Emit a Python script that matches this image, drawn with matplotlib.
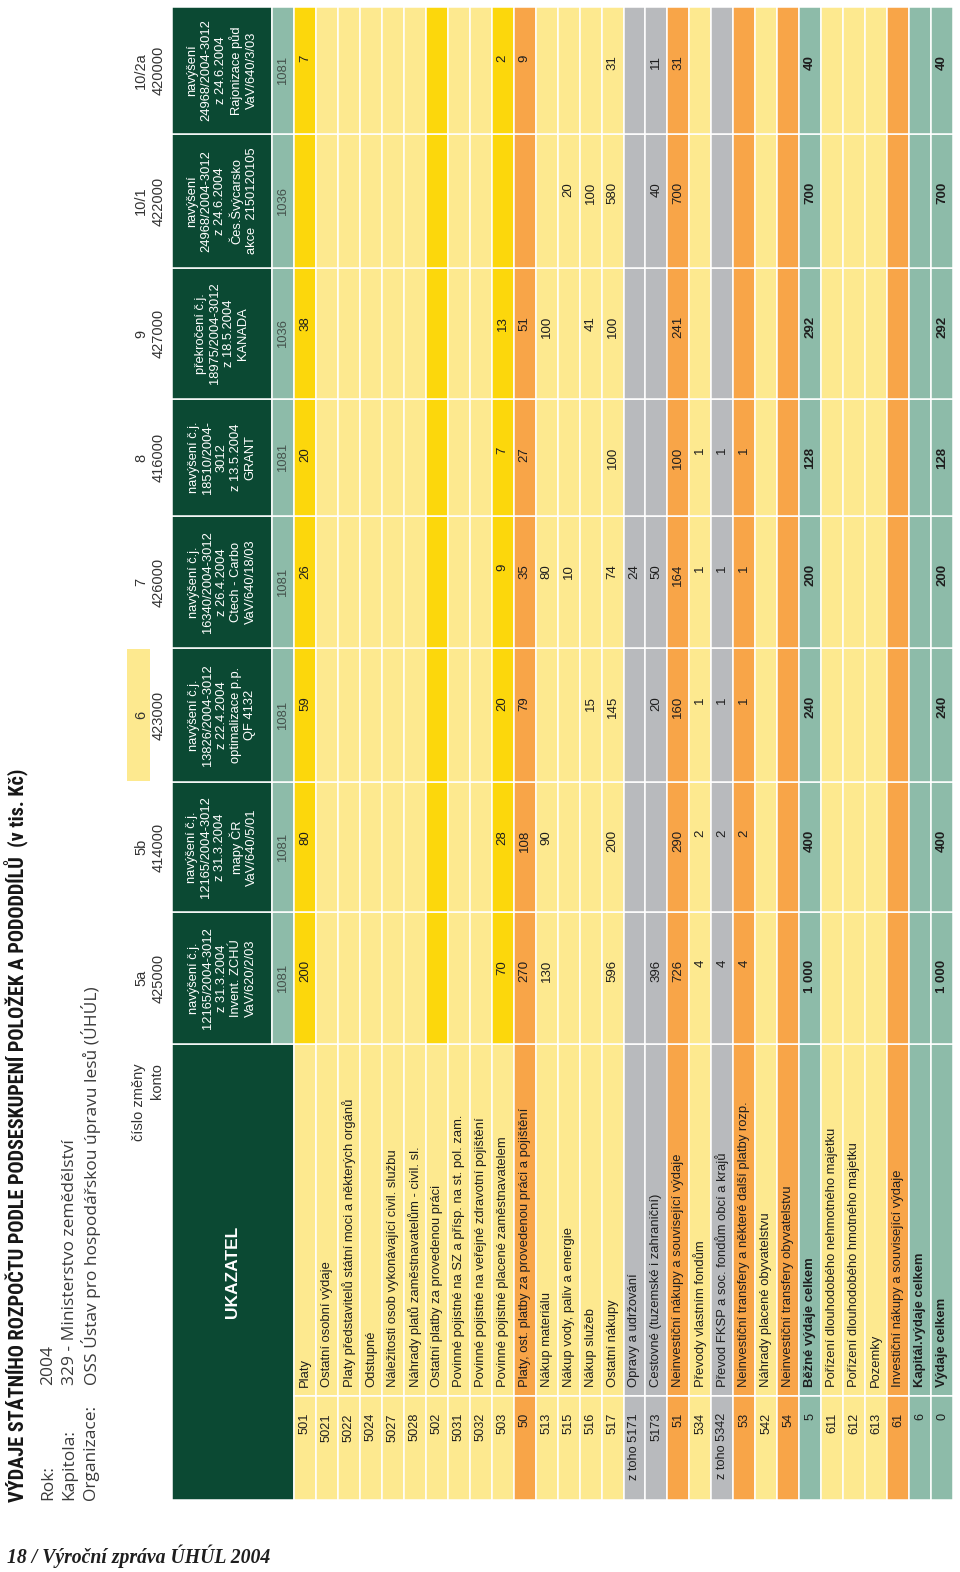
import matplotlib
matplotlib.use("Agg")
import matplotlib.pyplot as plt
from matplotlib.patches import Rectangle
from matplotlib import font_manager

# ---------------- data ----------------
col_ids = ["5a", "5b", "6", "7", "8", "9", "10/1", "10/2a"]
col_konto = ["425000", "414000", "423000", "426000", "416000", "427000", "422000", "420000"]
col_desc = [
    "navýšení č.j.\n12165/2004-3012\nz 31.3.2004\nInvent. ZCHÚ\nVaV/620/2/03",
    "navýšení č.j.\n12165/2004-3012\nz 31.3.2004\nmapy ČR\nVaV/640/5/01",
    "navýšení č.j.\n13826/2004-3012\nz 22.4.2004\noptimalizace p.p.\nQF 4132",
    "navýšení č.j.\n16340/2004-3012\nz 26.4.2004\nCtech - Carbo\nVaV/640/18/03",
    "navýšení č.j.\n18510/2004-\n3012\nz 13.5.2004\nGRANT",
    "překročení č.j.\n18975/2004-3012\nz 18.5.2004\nKANADA",
    "navýšení\n24968/2004-3012\nz 24.6.2004\nČes.Švýcarsko\nakce  2150120105",
    "navýšení\n24968/2004-3012\nz 24.6.2004\nRajonizace půd\nVaV/640/3/03",
]
col_head_vals = [1081, 1081, 1081, 1081, 1081, 1036, 1036, 1081]

row_codes = ["501", "5021", "5022", "5024", "5027", "5028", "502", "5031", "5032", "503",
             "50", "513", "515", "516", "517", "z toho 5171", "5173", "51", "534",
             "z toho 5342", "53", "542", "54", "5", "611", "612", "613", "61", "6", "0"]
row_labels = [
    "Platy",
    "Ostatní osobní výdaje",
    "Platy představitelů státní moci a některých orgánů",
    "Odstupné",
    "Náležitosti osob vykonávající civil. službu",
    "Náhrady platů zaměstnavatelům - civil. sl.",
    "Ostatní platby za provedenou práci",
    "Povinné pojistné na SZ a přísp. na st. pol. zam.",
    "Povinné pojistné na veřejné zdravotní pojištění",
    "Povinné pojistné placené zaměstnavatelem",
    "Platy, ost. platby za provedenou práci a pojištění",
    "Nákup materiálu",
    "Nákup vody, paliv a energie",
    "Nákup služeb",
    "Ostatní nákupy",
    "Opravy a udržování",
    "Cestovné (tuzemské i zahraniční)",
    "Neinvestiční nákupy a související výdaje",
    "Převody vlastním fondům",
    "Převod FKSP a soc. fondům obcí a krajů",
    "Neinvestiční transfery a některé další platby rozp.",
    "Náhrady placené obyvatelstvu",
    "Neinvestiční transfery obyvatelstvu",
    "Běžné výdaje celkem",
    "Pořízení dlouhodobého nehmotného majetku",
    "Pořízení dlouhodobého hmotného majetku",
    "Pozemky",
    "Investiční nákupy a související výdaje",
    "Kapitál.výdaje celkem",
    "Výdaje celkem",
]
row_kinds = ["gold", "light", "light", "light", "light", "light", "gold", "light", "light", "gold",
             "orange", "light", "light", "light", "light", "gray", "gray", "orange", "light",
             "gray", "orange", "light", "orange", "teal", "light", "light", "light", "orange",
             "teal", "teal"]
row_bold = [False] * 23 + [True, False, False, False, False, True, True]

N = None
v_5a = [200, N, N, N, N, N, N, N, N, 70, 270, 130, N, N, 596, N, 396, 726, 4, 4, 4, N, N, 1000, N, N, N, N, N, 1000]
v_5b = [80, N, N, N, N, N, N, N, N, 28, 108, 90, N, N, 200, N, N, 290, 2, 2, 2, N, N, 400, N, N, N, N, N, 400]
v_6 = [59, N, N, N, N, N, N, N, N, 20, 79, N, N, 15, 145, N, 20, 160, 1, 1, 1, N, N, 240, N, N, N, N, N, 240]
v_7 = [26, N, N, N, N, N, N, N, N, 9, 35, 80, 10, N, 74, 24, 50, 164, 1, 1, 1, N, N, 200, N, N, N, N, N, 200]
v_8 = [20, N, N, N, N, N, N, N, N, 7, 27, N, N, N, 100, N, N, 100, 1, 1, 1, N, N, 128, N, N, N, N, N, 128]
v_9 = [38, N, N, N, N, N, N, N, N, 13, 51, 100, N, 41, 100, N, N, 241, N, N, N, N, N, 292, N, N, N, N, N, 292]
v_10_1 = [N, N, N, N, N, N, N, N, N, N, N, N, 20, 100, 580, N, 40, 700, N, N, N, N, N, 700, N, N, N, N, N, 700]
v_10_2a = [7, N, N, N, N, N, N, N, N, 2, 9, N, N, N, 31, N, 11, 31, N, N, N, N, N, 40, N, N, N, N, N, 40]
col_values = [v_5a, v_5b, v_6, v_7, v_8, v_9, v_10_1, v_10_2a]

title = "VÝDAJE STÁTNÍHO ROZPOČTU PODLE PODSESKUPENÍ POLOŽEK A PODODDÍLŮ  (v tis. Kč)"
meta_keys = ["Rok:", "Kapitola:", "Organizace:"]
meta_vals = ["2004", "329 - Ministerstvo zemědělství", "OSS Ústav pro hospodářskou úpravu lesů (ÚHÚL)"]
footer = "18 / Výroční zpráva ÚHÚL 2004"

# ---------------- style / layout ----------------
W, H = 960, 1572
FONT = "Liberation Sans"
C_DARK = "#0b4933"
C_TEAL = "#8dbba9"
C_GOLD = "#fcd70c"
C_LIGHT = "#fde98f"
C_ORANGE = "#f8a548"
C_GRAY = "#b8babd"
kind_color = {"gold": C_GOLD, "light": C_LIGHT, "orange": C_ORANGE, "gray": C_GRAY, "teal": C_TEAL}

X_HEAD0, X_HEAD1 = 172, 272
X_DATA0 = 294
ROW_H = (953 - 294) / 30.0
COL_BOTTOM = 1044
COL_W = [132, 130, 134, 132, 117, 131, 134, 127]
Y_DESC0, Y_SPLIT, Y_CODE1 = 1044, 1396, 1500

names = {f.name for f in font_manager.fontManager.ttflist}

def pick(cands, default):
    for c in cands:
        if c in names:
            return c
    return default

FONT_COND = pick(["Liberation Sans Narrow", "DejaVu Sans Condensed", "Roboto Condensed", "Open Sans Condensed"], "DejaVu Sans")
FONT_SERIF = pick(["Liberation Serif", "DejaVu Serif"], "DejaVu Serif")
FONT_META = pick(["Open Sans", "Lato", "DejaVu Sans"], FONT)

fig = plt.figure(figsize=(W / 100, H / 100), dpi=100)
ax = fig.add_axes([0, 0, 1, 1])
ax.set_xlim(0, W)
ax.set_ylim(H, 0)
ax.axis("off")
renderer = fig.canvas.get_renderer()


def cell(x0, x1, y0, y1, color):
    ax.add_patch(Rectangle((x0, y0), x1 - x0, y1 - y0, facecolor=color,
                           edgecolor="white", linewidth=1.1))


def vtext(x, y, s, ha="left", **kw):
    kw.setdefault("family", FONT)
    return ax.text(x, y, s, rotation=90, rotation_mode="anchor", ha=ha, va="center", **kw)


def length_of(t):
    ext = t.get_window_extent(renderer=renderer)
    return max(ext.width, ext.height)


def fit(t, target):
    t.set_fontsize(t.get_fontsize() * target / length_of(t))


# column bounds (image y), 5a at bottom going upward
bounds = []
yb = COL_BOTTOM
for w in COL_W:
    bounds.append((yb - w, yb))
    yb -= w

# header label column
cell(X_HEAD0, X_DATA0, Y_DESC0, Y_CODE1, C_DARK)
vtext(233, (Y_DESC0 + Y_CODE1) / 2, "UKAZATEL", ha="center", color="white",
      fontsize=12.5, fontweight="bold")
vtext(139, 1063, "číslo změny", ha="right", color="#333333", fontsize=10.5)
vtext(157, 1063, "konto", ha="right", color="#333333", fontsize=10.5)

for k, (y0, y1) in enumerate(bounds):
    yc = (y0 + y1) / 2
    if col_ids[k] == "6":
        ax.add_patch(Rectangle((127, y0 + 1), 23, y1 - y0 - 2, facecolor=C_LIGHT, edgecolor="none"))
    vtext(141, yc, col_ids[k], ha="center", color="#333333", fontsize=10.5)
    vtext(159, yc, col_konto[k], ha="center", color="#333333", fontsize=10.5)
    cell(X_HEAD0, X_HEAD1, y0, y1, C_DARK)
    vtext(222, yc, col_desc[k], ha="center", color="white", fontsize=9.3,
          multialignment="center", linespacing=1.25)
    cell(X_HEAD1, X_DATA0, y0, y1, C_TEAL)
    vtext(283.5, yc, str(col_head_vals[k]), ha="center", color="#44524c", fontsize=9.4)

# body rows
for i in range(len(row_codes)):
    x0 = X_DATA0 + i * ROW_H
    x1 = x0 + ROW_H
    xc = (x0 + x1) / 2
    kind = row_kinds[i]
    lab_col = C_LIGHT if kind == "gold" else kind_color[kind]
    cell(x0, x1, Y_DESC0, Y_SPLIT, lab_col)
    cell(x0, x1, Y_SPLIT, Y_CODE1, lab_col)
    fw = "bold" if row_bold[i] else "normal"
    vtext(xc, Y_SPLIT - 9, row_labels[i], ha="left", color="#1e1e1e", fontsize=9.4, fontweight=fw)
    vtext(xc, Y_SPLIT + 17, row_codes[i], ha="right", color="#1e1e1e", fontsize=9.2)
    for k, (y0, y1) in enumerate(bounds):
        cell(x0, x1, y0, y1, kind_color[kind])
        v = col_values[k][i]
        if v is not None:
            s = f"{v:,}".replace(",", " ")
            vtext(xc, y0 + 48, s, ha="right", color="#1e1e1e", fontsize=9.5, fontweight=fw)

# title & meta
t = vtext(16, 1502, title, ha="left", color="#161616", fontsize=13, fontweight="bold", family=FONT_COND)
fit(t, 735)

meta_size = 11.0
probe = vtext(0, 0, meta_vals[2], fontsize=meta_size, family=FONT_META)
meta_size = meta_size * 399 / length_of(probe)
probe.remove()
for j, (key, val) in enumerate(zip(meta_keys, meta_vals)):
    x = 48 + j * 21.5
    vtext(x, 1500, key, ha="left", color="#3a3a3a", fontsize=meta_size, family=FONT_META)
    vtext(x, 1385, val, ha="left", color="#3a3a3a", fontsize=meta_size, family=FONT_META)

ft = ax.text(7, 1563, footer, ha="left", va="baseline", family=FONT_SERIF, fontsize=15,
             fontweight="bold", fontstyle="italic", color="#1e1e1e")
fit(ft, 265)

fig.savefig("out.png", dpi=100, facecolor="white")
